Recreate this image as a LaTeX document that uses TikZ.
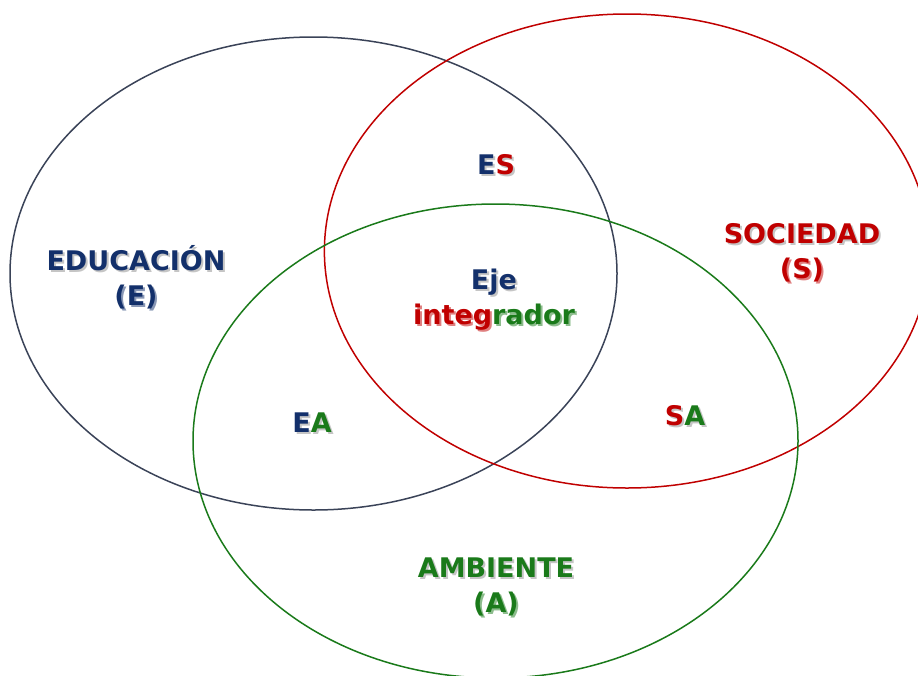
\documentclass[tikz,border=0pt]{standalone}
\usepackage{fontspec}
\setmainfont{DejaVu Sans}
\definecolor{colE}{HTML}{13306B}
\definecolor{colS}{HTML}{C00000}
\definecolor{colA}{HTML}{1A7A1A}
\definecolor{edline}{HTML}{3A4358}
\definecolor{shc}{HTML}{8C8C8C}
\newcommand\cE{\color{colE}}
\newcommand\cS{\color{colS}}
\newcommand\cA{\color{colA}}
\newcommand\lbl[3]{%
  \node[lbltext,text=shc,opacity=0.5] at ($(#2)+(2,2)$) {\let\cE\relax\let\cS\relax\let\cA\relax#3};
  \node[lbltext] (#1) at (#2) {#3};}
\usetikzlibrary{calc}
\begin{document}
\begin{tikzpicture}[x=1pt,y=-1pt,
  lbltext/.style={align=center,inner sep=0pt,font=\fontsize{27}{35}\selectfont\bfseries},
  ring/.style={line width=1.5pt}]
\useasboundingbox (0,0) rectangle (918,675);
\clip (0,0) rectangle (918,675);
\draw[ring,edline] (313.5,273.5) ellipse [x radius=303.5pt, y radius=236.5pt];
\draw[ring,colS] (627,251) ellipse [x radius=302.6pt, y radius=237pt];
\draw[ring,colA] (495.5,441) ellipse [x radius=302.5pt, y radius=237pt];
\lbl{edu}{136,277}{\cE EDUCACIÓN\\\cE(E)}
\lbl{soci}{802,253}{\cS SOCIEDAD\\\cS(S)}
\lbl{amb}{496,587}{\cA AMBIENTE\\\cA(A)}
\lbl{eje}{494,300}{\cE Eje\\{\cS integ}{\cA rador}}
\lbl{es}{496,165}{{\cE E}{\cS S}}
\lbl{ea}{312,423}{{\cE E}{\cA A}}
\lbl{sa}{685,416}{{\cS S}{\cA A}}
\end{tikzpicture}
\end{document}
